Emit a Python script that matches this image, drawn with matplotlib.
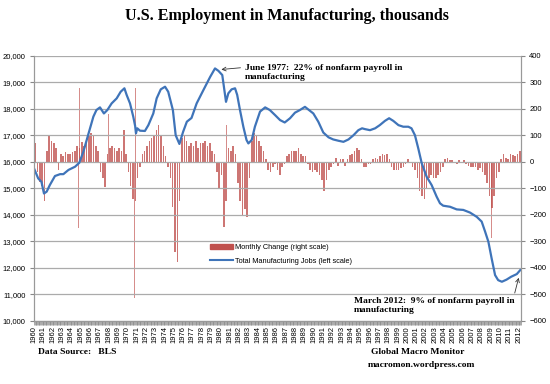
import numpy as np
import matplotlib
matplotlib.use("Agg")
import matplotlib.pyplot as plt
from matplotlib.patches import Patch
from matplotlib.lines import Line2D
from matplotlib.ticker import MultipleLocator, FuncFormatter

# Total manufacturing jobs (thousands)
line_years = [1960.0, 1960.45, 1960.8, 1961.07, 1961.36, 1961.7, 1962.25, 1962.8, 1963.15, 1963.7,
              1964.4, 1964.86, 1965.3, 1965.8, 1966.37, 1966.7, 1967.08, 1967.5, 1967.87, 1968.33,
              1968.87, 1969.3, 1969.7, 1969.94, 1970.3, 1970.65, 1970.85, 1970.94, 1971.08, 1971.37,
              1971.9, 1972.27, 1972.8, 1973.16, 1973.6, 1974.06, 1974.4, 1974.9, 1975.2, 1975.6,
              1976.0, 1976.4, 1976.9, 1977.45, 1978.17, 1978.9, 1979.42, 1979.78, 1980.2, 1980.6,
              1980.85, 1981.2, 1981.57, 1981.8, 1982.1, 1982.46, 1982.8, 1983.0, 1983.36, 1983.7,
              1984.25, 1984.8, 1985.3, 1985.86, 1986.4, 1986.9, 1987.47, 1988.0, 1988.53, 1989.07,
              1989.43, 1989.97, 1990.5, 1991.04, 1991.6, 1992.1, 1992.67, 1993.2, 1993.74, 1994.28,
              1994.8, 1995.2, 1995.5, 1996.05, 1996.6, 1997.1, 1997.65, 1998.1, 1998.55, 1999.1,
              1999.62, 2000.16, 2000.5, 2000.87, 2001.23, 2001.6, 2002.13, 2002.66, 2003.2, 2003.56,
              2003.9, 2004.63, 2005.35, 2006.06, 2006.78, 2007.5, 2008.03, 2008.4, 2008.75, 2009.1,
              2009.47, 2009.8, 2010.2, 2010.7, 2011.2, 2011.8, 2012.17]
line_jobs = [15750, 15370, 15240, 14800, 14870, 15120, 15460, 15530, 15530, 15690,
             15810, 15960, 16380, 17000, 17700, 17950, 18050, 17820, 17950, 18200,
             18390, 18640, 18770, 18520, 18200, 17700, 17350, 17070, 17260, 17170,
             17160, 17380, 17820, 18390, 18730, 18830, 18640, 17950, 17000, 16670,
             17130, 17510, 17650, 18200, 18700, 19200, 19520, 19430, 19270, 18260,
             18580, 18730, 18770, 18520, 17950, 17320, 16820, 16690, 16820, 17320,
             17890, 18050, 17950, 17760, 17570, 17480, 17640, 17850, 17950, 18070,
             17970, 17820, 17510, 17100, 16920, 16840, 16790, 16750, 16840, 17000,
             17190, 17260, 17230, 17190, 17260, 17380, 17540, 17640, 17540, 17380,
             17320, 17320, 17260, 17000, 16500, 15940, 15430, 15120, 14680, 14430,
             14340, 14300, 14200, 14180, 14080, 13920, 13740, 13360, 12980, 12350,
             11720, 11530, 11470, 11550, 11660, 11760, 11910]

# Monthly change (thousands), sampled roughly once a quarter from 1960 Q1
quarter_changes = [
    70, -40, -75, -90,      # 1960
    -150, 40, 100, 80,      # 1961
    70, 50, -30, 30,        # 1962
    20, 35, 30, 30,         # 1963
    35, 40, 60, 50,         # 1964
    75, 60, 90, 100,        # 1965
    110, 100, 60, 40,       # 1966
    -40, -60, -95, 30,      # 1967
    50, 60, 50, 40,         # 1968
    50, 40, 120, 30,        # 1969
    -40, -90, -140, -150,   # 1970
    -60, -20, 30, 40,       # 1971
    60, 80, 90, 100,        # 1972
    120, 140, 100, 60,      # 1973
    20, -20, -60, -170,     # 1974
    -340, -380, -150, 90,   # 1975
    100, 80, 60, 70,        # 1976
    60, 80, 50, 70,         # 1977
    70, 80, 60, 70,         # 1978
    40, 30, -40, -100,      # 1979
    -50, -245, -150, 50,    # 1980
    40, 60, 30, -80,        # 1981
    -150, -200, -180, -210, # 1982
    -60, 80, 110, 100,      # 1983
    80, 60, 40, 10,         # 1984
    -30, -40, -20, -10,     # 1985
    -30, -50, -20, -10,     # 1986
    20, 30, 40, 40,         # 1987
    40, 50, 30, 20,         # 1988
    20, -10, -30, -40,      # 1989
    -30, -40, -50, -70,     # 1990
    -110, -70, -30, -20,    # 1991
    -10, 15, -15, 10,       # 1992
    10, -15, 10, 25,        # 1993
    30, 40, 50, 45,         # 1994
    10, -20, -20, -10,      # 1995
    -10, 10, 15, 10,        # 1996
    20, 30, 25, 30,         # 1997
    10, -20, -30, -30,      # 1998
    -30, -25, -20, -10,     # 1999
    10, -5, -20, -30,       # 2000
    -60, -110, -130, -140,  # 2001
    -100, -60, -50, -60,    # 2002
    -60, -50, -40, -20,     # 2003
    10, 15, 5, 5,           # 2004
    -5, -10, 5, -5,         # 2005
    5, -10, -15, -20,       # 2006
    -20, -20, -30, -25,     # 2007
    -40, -50, -80, -130,    # 2008
    -175, -130, -60, -40,   # 2009
    10, 30, 15, 10,         # 2010
    30, 25, 20, 30,         # 2011
    40,                     # 2012
]
# single-month spikes (strikes etc.)
spike_years = [1964.8, 1964.9, 1968.0, 1970.75, 1970.92, 1980.67, 1990.15, 1998.5, 1998.62, 2009.05]
spike_changes = [-250, 277, 180, -515, 277, 140, 100, -186, 165, -288]

year_labels = [str(y) for y in range(1960, 2013)]

blue = "#3F74B9"
red = "#C0504D"
grid_gray = "#ABABAB"

fig = plt.figure(figsize=(5.5, 3.84), dpi=100)
ax = fig.add_axes([34 / 550, 1 - 320.7 / 384, 487 / 550, 265 / 384])
ax2 = ax.twinx()
ax.set_zorder(ax2.get_zorder() + 1)
ax.patch.set_visible(False)

q_x = 1960 + 0.25 * np.arange(len(quarter_changes)) + 0.125
ax2.bar(q_x, quarter_changes, width=0.17, color=red, linewidth=0, alpha=0.78)
ax2.bar(spike_years, spike_changes, width=0.07, color=red, linewidth=0, alpha=0.65)

ax.plot(line_years, line_jobs, color=blue, lw=1.6, solid_joinstyle="round")

ax.set_xlim(1960, 2012.25)
ax.set_ylim(10000, 20000)
ax2.set_ylim(-600, 400)
ax.yaxis.set_major_locator(MultipleLocator(1000))
ax2.yaxis.set_major_locator(MultipleLocator(100))
ax.yaxis.set_major_formatter(FuncFormatter(lambda v, p: f"{int(v):,}"))
ax.grid(axis="y", color=grid_gray, lw=0.9)
ax.set_axisbelow(True)

ax.set_xticks(range(1960, 2013))
ax.set_xticklabels(year_labels, rotation=90, fontsize=5.5, family="Liberation Sans")
ax.xaxis.set_minor_locator(MultipleLocator(1 / 12))
ax.tick_params(axis="x", which="both", length=3, width=0.5, color="#888888", pad=1)
ax.tick_params(axis="y", labelsize=5.5, length=3, color="#888888", pad=3)
ax2.tick_params(axis="y", labelsize=5.5, length=3, color="#888888", pad=3)
for lab in ax.get_yticklabels() + ax2.get_yticklabels():
    lab.set_family("Liberation Sans")

for a in (ax, ax2):
    a.spines["top"].set_visible(False)
    for s in ("left", "right", "bottom"):
        a.spines[s].set_color("#999999")
        a.spines[s].set_linewidth(0.8)

handles = [Patch(color=red), Line2D([], [], color=blue, lw=1.5)]
labels = ["Monthly Change (right scale)", "Total Manufacturing Jobs (left scale)"]
ax.legend(handles, labels, loc="center left", bbox_to_anchor=(0.355, 0.25), frameon=False,
          prop={"family": "Liberation Sans", "size": 5.3}, handlelength=3.2, handletextpad=0.2,
          labelspacing=0.9, borderaxespad=0)

serif = "Liberation Serif"
ax.annotate("June 1977:  22% of nonfarm payroll in\nmanufacturing",
            xy=(1980.1, 19480), xytext=(1982.6, 19380), ha="left", va="center",
            fontsize=6.8, family=serif, weight="bold", linespacing=1.15,
            arrowprops=dict(arrowstyle="->", lw=0.6, color="#333333", relpos=(0, 0.78),
                            shrinkA=1, shrinkB=0))
ax.annotate("March 2012:  9% of nonfarm payroll in\nmanufacturing",
            xy=(2012.0, 11620), xytext=(1994.3, 10570), ha="left", va="center",
            fontsize=6.8, family=serif, weight="bold", linespacing=1.15,
            arrowprops=dict(arrowstyle="->", lw=0.6, color="#333333", relpos=(0.99, 0.78),
                            shrinkA=1, shrinkB=0))

fig.text(287 / 550, 1 - 16 / 384, "U.S. Employment in Manufacturing, thousands",
         ha="center", va="center", fontsize=11.5, family=serif, weight="bold")
fig.text(38 / 550, 1 - 352 / 384, "Data Source:   BLS", ha="left", va="center",
         fontsize=6.8, family=serif, weight="bold")
fig.text(418 / 550, 1 - 352 / 384, "Global Macro Monitor", ha="center", va="center",
         fontsize=6.8, family=serif, weight="bold")
fig.text(421 / 550, 1 - 365 / 384, "macromon.wordpress.com", ha="center", va="center",
         fontsize=6.8, family=serif, weight="bold")

fig.savefig("out.png", dpi=100)
